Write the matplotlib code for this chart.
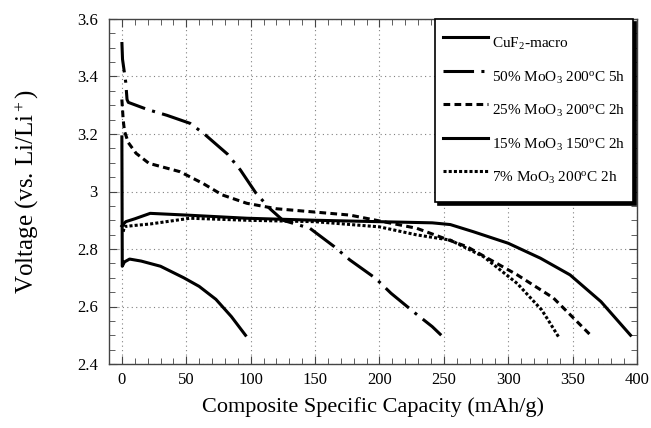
import matplotlib
matplotlib.use("Agg")
import matplotlib.pyplot as plt
from matplotlib.ticker import MultipleLocator

plt.rcParams["font.family"] = ["Liberation Serif", "DejaVu Serif"]
plt.rcParams["mathtext.fontset"] = "custom"
plt.rcParams["mathtext.rm"] = "Liberation Serif"
plt.rcParams["mathtext.it"] = "Liberation Serif:italic"

# capacity (mAh/g) and voltage (V)
cuf2_x = [0, 0.3, 2, 6, 15, 30, 48, 60, 73, 85, 96]
cuf2_y = [3.19, 2.74, 2.755, 2.765, 2.758, 2.74, 2.70, 2.67, 2.625, 2.565, 2.50]

moo3_50_x = [0, 0.5, 3, 4, 5, 20, 35, 53, 64, 82, 92, 104, 115, 125, 146, 165,
             177, 197, 209, 228, 241, 248]
moo3_50_y = [3.52, 3.46, 3.38, 3.32, 3.31, 3.285, 3.265, 3.237, 3.20, 3.13, 3.075,
             2.995, 2.94, 2.90, 2.872, 2.808, 2.762, 2.698, 2.646, 2.576, 2.53, 2.50]

moo3_25_x = [0, 1, 2, 5, 11, 21, 45, 63, 78, 97, 120, 177, 229, 268, 307, 335,
             350, 364]
moo3_25_y = [3.32, 3.25, 3.21, 3.17, 3.133, 3.098, 3.069, 3.028, 2.988, 2.959,
             2.94, 2.918, 2.872, 2.808, 2.71, 2.63, 2.563, 2.50]

moo3_15_x = [0, 3, 10, 22, 50, 97, 150, 200, 241, 255, 273, 300, 325, 348, 372, 395]
moo3_15_y = [2.88, 2.895, 2.905, 2.924, 2.918, 2.907, 2.90, 2.895, 2.891, 2.885,
             2.86, 2.82, 2.768, 2.71, 2.617, 2.50]

moo3_7_x = [1, 2, 10, 22, 53, 97, 150, 200, 229, 255, 281, 307, 326, 331, 339]
moo3_7_y = [2.86, 2.878, 2.882, 2.887, 2.907, 2.90, 2.895, 2.877, 2.849, 2.831,
            2.773, 2.68, 2.588, 2.553, 2.495]

labels = [
    r"CuF$_2$-macro",
    r"50% MoO$_3$ 200$^\mathrm{o}$C 5h",
    r"25% MoO$_3$ 200$^\mathrm{o}$C 2h",
    r"15% MoO$_3$ 150$^\mathrm{o}$C 2h",
    r"7% MoO$_3$ 200$^\mathrm{o}$C 2h",
]

fig = plt.figure(figsize=(6.51, 4.28), dpi=100)
ax = fig.add_axes([109 / 651, 1 - 364 / 428, 528 / 651, 345 / 428])

lw = 2.2
ax.plot(cuf2_x, cuf2_y, color="black", lw=lw, label=labels[0])
ax.plot(moo3_50_x, moo3_50_y, color="black", lw=lw, linestyle=(0, (10, 2.4, 1, 2.4)),
        label=labels[1])
ax.plot(moo3_25_x, moo3_25_y, color="black", lw=lw, linestyle=(0, (2.2, 1.4)),
        label=labels[2])
ax.plot(moo3_15_x, moo3_15_y, color="black", lw=lw, label=labels[3])
ax.plot(moo3_7_x, moo3_7_y, color="black", lw=lw, linestyle=(0, (1.0, 0.7)),
        label=labels[4])

ax.set_xlim(-10, 400)
ax.set_ylim(2.4, 3.6)
ax.xaxis.set_major_locator(MultipleLocator(50))
ax.xaxis.set_minor_locator(MultipleLocator(10))
ax.yaxis.set_major_locator(MultipleLocator(0.2))
ax.yaxis.set_minor_locator(MultipleLocator(0.05))
ax.yaxis.set_major_formatter(plt.FuncFormatter(lambda v, p: f"{v:g}"))
ax.tick_params(which="both", direction="in", top=True, right=True, labelsize=12,
               color="#444444")
ax.tick_params(which="major", length=6)
ax.tick_params(which="minor", length=4)
ax.tick_params(axis="x", which="major", pad=6)
ax.tick_params(axis="y", which="major", pad=8)
ax.grid(which="major", color="gray", linestyle=(0, (1, 3)), linewidth=0.8)
for s in ax.spines.values():
    s.set_color("#444444")
    s.set_linewidth(1.0)

ax.set_xlabel("Composite Specific Capacity (mAh/g)", fontsize=16, labelpad=6)
ax.set_ylabel("Voltage (vs. Li/Li$^+$)", fontsize=18, labelpad=26)

leg = ax.legend(loc="upper right", bbox_to_anchor=(0.993, 1.0), fontsize=11,
                frameon=True, fancybox=False, shadow={"color": "black", "alpha": 1},
                handlelength=2.95, handleheight=3.0, labelspacing=0.0,
                borderpad=0.5, handletextpad=0.3, borderaxespad=0)
leg.get_frame().set_edgecolor("black")
leg.get_frame().set_linewidth(1.2)
leg.get_frame().set_alpha(1)

fig.savefig("out.png", dpi=100)
